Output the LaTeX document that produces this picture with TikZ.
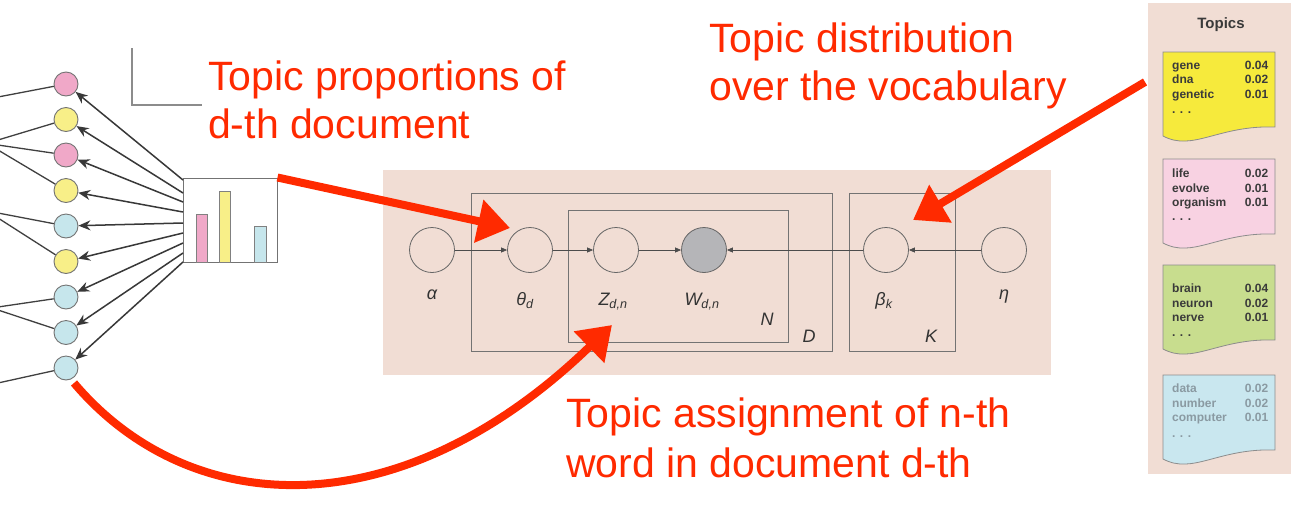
\documentclass[tikz,border=0pt]{standalone}
\usepackage{fontspec}
\setmainfont{Liberation Sans}
\usetikzlibrary{arrows.meta,calc}
\definecolor{annred}{HTML}{FF2A00}
\definecolor{panelbg}{HTML}{F1DDD4}
\definecolor{cpink}{HTML}{F0A8C8}
\definecolor{cyellow}{HTML}{F8EF88}
\definecolor{cblue}{HTML}{C6E6EC}
\definecolor{kyellow}{HTML}{F6EA3C}
\definecolor{kpink}{HTML}{F8D2E2}
\definecolor{kgreen}{HTML}{C8DD8E}
\definecolor{kblue}{HTML}{C9E7EF}
\definecolor{wgray}{HTML}{B5B5B8}
\definecolor{cardink}{HTML}{3A3A3A}
\definecolor{bluink}{HTML}{8A9AA2}
\newcommand{\topiccard}[3]{%
  \draw[carddraw, fill=#3] (#1,#2) -- ({#1+112},#2) -- ({#1+112},{#2+75})
    .. controls ({#1+55},{#2+73}) and ({#1+30},{#2+100}) .. (#1,{#2+84}) -- cycle;}
\newcommand{\cardrow}[5]{%
  \node[cardtext, text=#5] (#1) at (1172,#2) {\makebox[96pt][l]{#3\hfill#4}};}
\begin{document}
\begin{tikzpicture}[x=1pt,y=-1pt,
  wordc/.style={circle, draw=black!55, line width=0.9pt, minimum size=24pt, inner sep=0pt},
  docline/.style={draw=black!75, line width=1.3pt},
  proparr/.style={draw=black!78, line width=1.5pt, -{Stealth[length=12pt,width=10pt]}},
  pgmnode/.style={circle, draw=black!60, line width=0.8pt, minimum size=45pt, inner sep=0pt},
  pgmarr/.style={draw=black!70, line width=0.7pt, -{Triangle[length=6pt,width=5pt]}},
  plate/.style={draw=black!55, line width=0.9pt, inner sep=0pt},
  pgmlab/.style={font=\fontsize{18}{20}\selectfont\itshape, text=black!80, anchor=base, inner sep=0pt},
  annot/.style={font=\fontsize{41}{48}\selectfont, text=annred, anchor=base west, inner sep=0pt},
  redarr/.style={draw=annred, line width=8pt, -{Triangle[length=32pt,width=42pt]}},
  carddraw/.style={draw=black!45, line width=0.8pt},
  cardtext/.style={font=\fontsize{12}{14}\selectfont\bfseries, anchor=base west, inner sep=0pt},
]
\useasboundingbox[fill=white] (0,0) rectangle (1295,512);

% ---------- left: documents, words, topic proportions ----------
\draw[draw=black!45, line width=1.1pt] (132,48) -- (132,105) -- (202,105);

\node[wordc, fill=cpink]   (c1) at (66,84) {};
\node[wordc, fill=cyellow] (c2) at (66,119.5) {};
\node[wordc, fill=cpink]   (c3) at (66,155) {};
\node[wordc, fill=cyellow] (c4) at (66,190.5) {};
\node[wordc, fill=cblue]   (c5) at (66,226) {};
\node[wordc, fill=cyellow] (c6) at (66,261.5) {};
\node[wordc, fill=cblue]   (c7) at (66,297) {};
\node[wordc, fill=cblue]   (c8) at (66,332.5) {};
\node[wordc, fill=cblue]   (c9) at (66,368) {};

\coordinate (l1) at (-2,97);
\coordinate (l2) at (-2,140);
\coordinate (l3) at (-2,145);
\coordinate (l4) at (-2,150);
\coordinate (l5) at (-2,213);
\coordinate (l6) at (-2,218);
\coordinate (l7) at (-2,307);
\coordinate (l8) at (-2,310);
\coordinate (l9) at (-2,383);
\foreach \i in {1,...,9} { \draw[docline] (l\i) -- (c\i); }

\node[draw=black!55, line width=1pt, fill=white, minimum width=94pt, minimum height=84pt, inner sep=0pt] (bars) at (230,220) {};
\draw[draw=black!50, line width=0.8pt, fill=cpink]   (196,214) rectangle (207,262);
\draw[draw=black!50, line width=0.8pt, fill=cyellow] (219,191) rectangle (230,262);
\draw[draw=black!50, line width=0.8pt, fill=cblue]   (254,226) rectangle (266,262);

\coordinate (s1) at (183,180);
\coordinate (s2) at (183,193);
\coordinate (s3) at (183,202);
\coordinate (s4) at (183,212);
\coordinate (s5) at (183,223);
\coordinate (s6) at (183,233);
\coordinate (s7) at (183,243);
\coordinate (s8) at (183,253);
\coordinate (s9) at (183,262);
\foreach \i in {1,...,9} { \draw[proparr] (s\i) -- (c\i); }

% ---------- middle: graphical model ----------
\fill[panelbg] (383,170) rectangle (1051,375);

\node[plate, minimum width=361pt, minimum height=158pt] (plateD) at (651.5,272) {};
\node[plate, minimum width=220pt, minimum height=132pt] (plateN) at (678,276) {};
\node[plate, minimum width=106pt, minimum height=158pt] (plateK) at (902,272) {};

\node[pgmnode] (alpha) at (432,250) {};
\node[pgmnode] (theta) at (530,250) {};
\node[pgmnode] (z)     at (616,250) {};
\node[pgmnode, fill=wgray] (w) at (704,250) {};
\node[pgmnode] (beta)  at (886,250) {};
\node[pgmnode] (eta)   at (1004,250) {};

\draw[pgmarr] (alpha) -- (theta);
\draw[pgmarr] (theta) -- (z);
\draw[pgmarr] (z) -- (w);
\draw[pgmarr] (beta) -- (w);
\draw[pgmarr] (eta) -- (beta);

\node[pgmlab] (lalpha) at (432,299) {α};
\node[pgmlab] (ltheta) at (525,305) {θ\textsubscript{d}};
\node[pgmlab] (lz)     at (613,305) {Z\textsubscript{d,n}};
\node[pgmlab] (lw)     at (702,305) {W\textsubscript{d,n}};
\node[pgmlab] (lbeta)  at (884,305) {β\textsubscript{k}};
\node[pgmlab] (leta)   at (1004,299) {η};
\node[pgmlab] (lN) at (767,325) {N};
\node[pgmlab] (lD) at (809,342) {D};
\node[pgmlab] (lK) at (931,342) {K};

% ---------- right: topics ----------
\fill[panelbg] (1148,3) rectangle (1291,474);
\node[font=\fontsize{15}{17}\selectfont\bfseries, text=cardink, inner sep=0pt] (ttl) at (1221,25) {Topics};

\topiccard{1163}{52}{kyellow}
\topiccard{1163}{159}{kpink}
\topiccard{1163}{265}{kgreen}
\topiccard{1163}{375}{kblue}

\cardrow{ya}{69}{gene}{0.04}{cardink}
\cardrow{yb}{83.5}{dna}{0.02}{cardink}
\cardrow{yc}{98}{genetic}{0.01}{cardink}
\cardrow{yd}{113}{. . .}{}{cardink}

\cardrow{pa}{177}{life}{0.02}{cardink}
\cardrow{pb}{192}{evolve}{0.01}{cardink}
\cardrow{pc}{206.5}{organism}{0.01}{cardink}
\cardrow{pd}{220}{. . .}{}{cardink}

\cardrow{ga}{292}{brain}{0.04}{cardink}
\cardrow{gb}{307}{neuron}{0.02}{cardink}
\cardrow{gc}{321.5}{nerve}{0.01}{cardink}
\cardrow{gd}{336}{. . .}{}{cardink}

\cardrow{ba}{392}{data}{0.02}{bluink}
\cardrow{bb}{407}{number}{0.02}{bluink}
\cardrow{bc}{421.5}{computer}{0.01}{bluink}
\cardrow{bd}{437}{. . .}{}{bluink}

% ---------- red annotations ----------
\node[annot] (tpa) at (208,90)  {Topic proportions of};
\node[annot] (tpb) at (208,138) {d-th document};
\node[annot] (tda) at (709,52)  {Topic distribution};
\node[annot] (tdb) at (709,100) {over the vocabulary};
\node[annot] (taa) at (566,427) {Topic assignment of n-th};
\node[annot] (tab) at (566,477) {word in document d-th};

\coordinate (tipA) at (510,228);
\coordinate (srcB) at (1145,82);
\coordinate (tipB) at (913,220);
\coordinate (srcC) at (74,383);
\coordinate (tipC) at (612,325);

\draw[redarr] (bars.north east) -- (tipA);
\draw[redarr] (srcB) -- (tipB);
\draw[redarr] (srcC) .. controls (190,520) and (400,530) .. (tipC);
\end{tikzpicture}
\end{document}
